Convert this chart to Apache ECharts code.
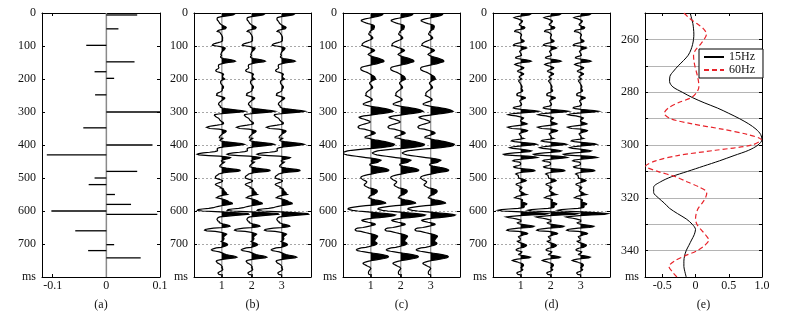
<!DOCTYPE html>
<html>
<head>
<meta charset="utf-8">
<script src="https://cdn.jsdelivr.net/npm/echarts@6/dist/echarts.min.js"></script>
<style>
html, body { margin: 0; padding: 0; background: #fff; }
#chart { width: 795px; height: 317px; }
</style>
</head>
<body>
<div id="chart"></div>
<script>
// reflectivity series, panel (a)
var refTime = [6, 48, 98, 148, 178, 198, 248, 300, 348, 400, 430, 480, 500, 520, 550, 580, 600, 610, 660, 702, 720, 742]
var refValue = [0.0575, 0.0225, -0.0375, 0.0525, -0.022, 0.0145, -0.021, 0.1, -0.043, 0.086, -0.111, 0.0575, -0.022, -0.033, 0.016, 0.046, -0.1025, 0.095, -0.058, 0.0145, -0.034, 0.064]

// wavelets, panel (e), sampled every 2 ms
var waveTime = [250, 252, 254, 256, 258, 260, 262, 264, 266, 268, 270, 272, 274, 276, 278, 280, 282, 284, 286, 288,
  290, 292, 294, 296, 298, 300, 302, 304, 306, 308, 310, 312, 314, 316, 318, 320, 322, 324, 326, 328,
  330, 332, 334, 336, 338, 340, 342, 344, 346, 348, 350]
var wave15 = [-0.08, -0.06, -0.04, -0.03, -0.025, -0.03, -0.045, -0.07, -0.11, -0.18, -0.26, -0.33, -0.385, -0.39, -0.34, -0.2, -0.05, 0.13, 0.33, 0.5,
  0.66, 0.8, 0.91, 0.98, 1.0, 0.94, 0.8, 0.58, 0.36, 0.12, -0.12, -0.36, -0.53, -0.63, -0.63, -0.56, -0.47, -0.39, -0.27, -0.14,
  -0.05, 0.0, -0.02, -0.06, -0.1, -0.14, -0.165, -0.175, -0.175, -0.16, -0.14]
var wave60 = [-0.175, -0.09, 0.02, 0.12, 0.165, 0.13, 0.07, 0.0, -0.03, -0.025, -0.01, 0.01, 0.03, 0.045, 0.05, 0.02, -0.06, -0.26, -0.41, -0.47,
  -0.38, -0.05, 0.4, 0.78, 0.99, 0.85, 0.3, -0.27, -0.6, -0.75, -0.57, -0.3, -0.12, 0.06, 0.17, 0.15, 0.1, 0.04, 0.01, 0.0,
  0.02, 0.08, 0.15, 0.2, 0.14, 0.03, -0.16, -0.32, -0.4, -0.35, -0.28]

var traceOffsets = [1, 2, 3]
var panelNames = ['(a)', '(b)', '(c)', '(d)', '(e)']
var gridLeft = [42, 194, 343, 493, 645]
var gridWidth = [118, 117, 117, 117, 117]

var FONT = 'Liberation Serif'

// time samples for the synthetic traces (2 ms)
var traceTime = []
for (var t = 0; t <= 800; t += 2) traceTime.push(t)

// synthetic trace = reflectivity convolved with a wavelet, scaled for display
function synth(w, gain) {
  var out = traceTime.map(function(tt) {
    var s = 0
    for (var k = 0; k < refTime.length; k++) {
      var j = (tt - refTime[k] + 300 - waveTime[0]) / 2
      if (j >= 0 && j < w.length) s += refValue[k] * w[j]
    }
    return s
  })
  var m = 0
  out.forEach(function(v) { m = Math.max(m, Math.abs(v)) })
  return out.map(function(v) { return v / m * gain })
}

var waveMix = wave15.map(function(v, i) { return (v + wave60[i]) / 2 })
var traceB = synth(waveMix, 0.9)
var traceC = synth(wave15, 0.95)
var traceD = synth(wave60, 0.9)

var myChart = echarts.init(document.getElementById('chart'))

var labelStyle = { fontFamily: FONT, fontSize: 12, color: '#111' }
var grids = [], xAxes = [], yAxes = []

gridLeft.forEach(function(l, p) {
  grids.push({ left: l, top: 13, width: gridWidth[p], height: 264 })
  var xr
  if (p === 0) xr = { min: -0.12, max: 0.1, vals: [-0.1, 0, 0.1] }
  else if (p === 4) xr = { min: -0.76, max: 1.0, vals: [-0.5, 0, 0.5, 1.0] }
  else xr = { min: 0.07, max: 3.98, vals: [1, 2, 3] }
  ;['bottom', 'top'].forEach(function(pos) {
    xAxes.push({
      gridIndex: p, type: 'value', position: pos, min: xr.min, max: xr.max,
      axisLine: { onZero: false, lineStyle: { color: '#000', width: 1 } },
      axisTick: { inside: true, length: 3, customValues: xr.vals, lineStyle: { color: '#000' } },
      axisLabel: Object.assign({
        show: pos === 'bottom', margin: 3, customValues: xr.vals,
        formatter: function(v) { return p === 4 && v === 1 ? '1.0' : String(v) }
      }, labelStyle),
      splitLine: { show: false },
      name: pos === 'bottom' ? panelNames[p] : '',
      nameLocation: 'middle', nameGap: 22, nameTextStyle: labelStyle
    })
  })
  var yr = p === 4 ? { min: 250, max: 350, interval: 10 } : { min: 0, max: 800, interval: 100 }
  ;['left', 'right'].forEach(function(pos) {
    yAxes.push({
      gridIndex: p, type: 'value', position: pos, inverse: true,
      min: yr.min, max: yr.max, interval: yr.interval,
      axisLine: { onZero: false, lineStyle: { color: '#000', width: 1 } },
      axisTick: { inside: true, length: 3, lineStyle: { color: '#000' } },
      axisLabel: Object.assign({
        show: pos === 'left', margin: 6,
        formatter: function(v) {
          if (v === yr.max) return 'ms'
          if (p === 4) return (v % 20 === 0) ? String(v) : ''
          return String(v)
        }
      }, labelStyle),
      splitLine: {
        show: pos === 'left' && p > 0,
        lineStyle: p === 4 ? { color: '#b4b4b4', width: 1 } : { color: '#a8a8a8', width: 1, type: [2, 2] }
      }
    })
  })
})

function wiggleSeries(p, trace) {
  return {
    type: 'custom', xAxisIndex: p * 2, yAxisIndex: p * 2, clip: true,
    data: traceOffsets.map(function(o) { return [o] }),
    renderItem: function(params, api) {
      var off = api.value(0)
      var line = [], fill = []
      for (var i = 0; i < traceTime.length; i++) {
        line.push(api.coord([off + trace[i], traceTime[i]]))
        fill.push(api.coord([off + Math.max(trace[i], 0), traceTime[i]]))
      }
      fill.push(api.coord([off, traceTime[traceTime.length - 1]]))
      fill.push(api.coord([off, traceTime[0]]))
      var a = api.coord([off, 0]), b = api.coord([off, 800])
      return {
        type: 'group',
        children: [
          { type: 'line', shape: { x1: a[0], y1: a[1], x2: b[0], y2: b[1] }, style: { stroke: '#9a9a9a', lineWidth: 1.3 } },
          { type: 'polygon', shape: { points: fill }, style: { fill: '#000' } },
          { type: 'polyline', shape: { points: line }, style: { stroke: '#000', fill: null, lineWidth: 1.2 } }
        ]
      }
    }
  }
}

var option = {
  backgroundColor: '#fff',
  animation: false,
  grid: grids,
  xAxis: xAxes,
  yAxis: yAxes,
  legend: {
    data: ['15Hz', '60Hz'], orient: 'vertical', left: 699, top: 49,
    padding: [2, 8, 2, 4], itemGap: 1, itemWidth: 20, itemHeight: 10,
    borderColor: '#000', borderWidth: 1, borderRadius: 0, backgroundColor: '#fff',
    itemStyle: { opacity: 0 },
    textStyle: { fontFamily: FONT, fontSize: 12, color: '#111', lineHeight: 12 }
  },
  series: [
    // zero line of panel (a)
    {
      type: 'custom', xAxisIndex: 0, yAxisIndex: 0, data: [[0]],
      renderItem: function(params, api) {
        var a = api.coord([0, 0]), b = api.coord([0, 800])
        return { type: 'line', shape: { x1: a[0], y1: a[1], x2: b[0], y2: b[1] }, style: { stroke: '#8a8a8a', lineWidth: 1.5 } }
      }
    },
    // spikes of panel (a)
    {
      type: 'custom', xAxisIndex: 0, yAxisIndex: 0, clip: true,
      data: refTime.map(function(tt, i) { return [refValue[i], tt] }),
      renderItem: function(params, api) {
        var p0 = api.coord([0, api.value(1)]), p1 = api.coord([api.value(0), api.value(1)])
        return { type: 'line', shape: { x1: p0[0], y1: p0[1], x2: p1[0], y2: p1[1] }, style: { stroke: '#000', lineWidth: 1.3 } }
      }
    },
    wiggleSeries(1, traceB),
    wiggleSeries(2, traceC),
    wiggleSeries(3, traceD),
    {
      name: '15Hz', type: 'line', xAxisIndex: 8, yAxisIndex: 8, symbol: 'none', smooth: 0.3,
      lineStyle: { color: '#000', width: 1 }, itemStyle: { color: '#000' },
      data: waveTime.map(function(tt, i) { return [wave15[i], tt] })
    },
    {
      name: '60Hz', type: 'line', xAxisIndex: 8, yAxisIndex: 8, symbol: 'none', smooth: 0.3,
      lineStyle: { color: '#e8242b', width: 1.2, type: [5, 3] }, itemStyle: { color: '#e8242b' },
      data: waveTime.map(function(tt, i) { return [wave60[i], tt] })
    }
  ]
}

myChart.setOption(option)
</script>
</body>
</html>
